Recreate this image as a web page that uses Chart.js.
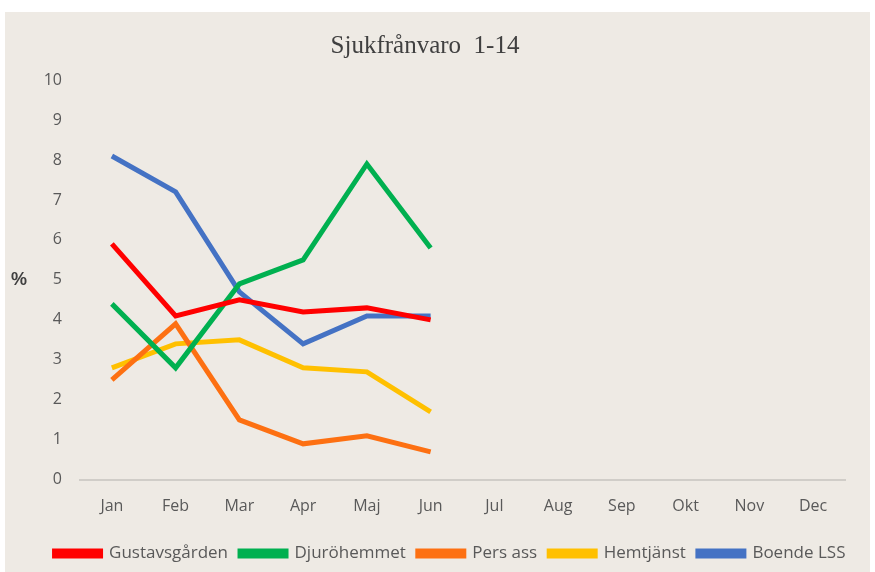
<!DOCTYPE html>
<html>
<head>
<meta charset="utf-8">
<script src="https://cdn.jsdelivr.net/npm/chart.js@4/dist/chart.umd.min.js"></script>
<style>
  html, body { margin: 0; padding: 0; background: #ffffff; }
  #wrap { position: absolute; left: 5px; top: 12px; width: 865px; height: 560px; background: #eeeae4; }
  canvas { display: block; }
</style>
</head>
<body>
<div id="wrap"><canvas id="c" width="865" height="560"></canvas></div>
<script>
const titleText = "Sjukfrånvaro  1-14";
const yAxisLabel = "%";
const months = ["Jan", "Feb", "Mar", "Apr", "Maj", "Jun", "Jul", "Aug", "Sep", "Okt", "Nov", "Dec"];
const seriesNames = ["Gustavsgården", "Djuröhemmet", "Pers ass", "Hemtjänst", "Boende LSS"];
const seriesColors = ["#ff0000", "#00b050", "#fd7012", "#ffc000", "#4472c4"];
const gustavsgarden = [5.9, 4.1, 4.5, 4.2, 4.3, 4.0, null, null, null, null, null, null];
const djurohemmet   = [4.4, 2.8, 4.9, 5.5, 7.9, 5.8, null, null, null, null, null, null];
const persAss       = [2.5, 3.9, 1.5, 0.9, 1.1, 0.7, null, null, null, null, null, null];
const hemtjanst     = [2.8, 3.4, 3.5, 2.8, 2.7, 1.7, null, null, null, null, null, null];
const boendeLSS     = [8.1, 7.2, 4.7, 3.4, 4.1, 4.1, null, null, null, null, null, null];
const seriesValues = [gustavsgarden, djurohemmet, persAss, hemtjanst, boendeLSS];

const tickFont = { family: "'Liberation Sans Narrow', 'Open Sans', sans-serif", size: 16 };
const legendFont = { family: "'Liberation Sans Narrow', 'Open Sans', sans-serif", size: 17 };

const pctLabel = {
  id: 'pctLabel',
  beforeDraw(chart) {
    // shift the legend block to the right like the reference
    if (chart.legend) {
      chart.legend.left = 25;
      chart.legend.right = 865;
    }
  },
  afterDraw(chart) {
    const ctx = chart.ctx;
    ctx.save();
    ctx.font = "bold 18px 'Liberation Sans', sans-serif";
    ctx.fillStyle = '#404040';
    ctx.textAlign = 'center';
    ctx.textBaseline = 'middle';
    ctx.fillText(yAxisLabel, 14, 268);
    ctx.restore();
  }
};

new Chart(document.getElementById('c'), {
  type: 'line',
  data: {
    labels: months,
    datasets: seriesNames.map((n, i) => ({
      label: n,
      data: seriesValues[i],
      borderColor: seriesColors[i],
      backgroundColor: seriesColors[i],
      borderWidth: 5,
      pointRadius: 0,
      tension: 0,
      spanGaps: false
    }))
  },
  options: {
    responsive: false,
    animation: false,
    layout: { padding: { left: 0, right: 25, top: 0, bottom: 0 } },
    plugins: {
      title: {
        display: true,
        text: titleText,
        color: '#404040',
        font: { family: "'Liberation Serif', serif", size: 25, weight: 'normal' },
        padding: { top: 19, bottom: 19 }
      },
      legend: {
        position: 'bottom',
        labels: {
          color: '#595959',
          font: legendFont,
          boxWidth: 46,
          boxHeight: 5,
          padding: 12
        }
      },
      tooltip: { enabled: false }
    },
    scales: {
      x: {
        offset: true,
        grid: { display: false, drawTicks: false, offset: true },
        border: { display: true, color: '#d0cdc8', width: 2 },
        ticks: { color: '#595959', font: tickFont, padding: 17 }
      },
      y: {
        min: 0, max: 10,
        afterFit(scale) { scale.width = 75; },
        grid: { display: false, drawTicks: false },
        border: { display: false },
        ticks: { stepSize: 1, color: '#595959', font: tickFont, padding: 18 }
      }
    }
  },
  plugins: [pctLabel]
});
</script>
</body>
</html>
